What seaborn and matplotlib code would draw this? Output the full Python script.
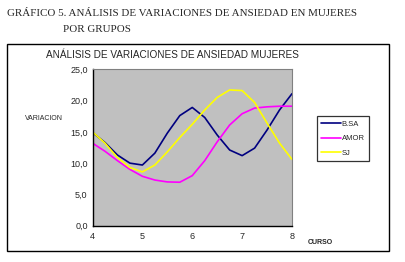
import pandas as pd
import matplotlib.pyplot as plt
import seaborn as sns
from matplotlib.patches import Rectangle
from matplotlib.ticker import FuncFormatter

# Datos (curso vs variación)
curso = [4.0, 4.25, 4.5, 4.75, 5.0, 5.25, 5.5, 5.75, 6.0,
         6.25, 6.5, 6.75, 7.0, 7.25, 7.5, 7.75, 8.0]
bsa = [14.9, 13.3, 11.3, 10.0, 9.7, 11.6, 14.8, 17.6, 18.9,
       17.3, 14.5, 12.1, 11.2, 12.4, 15.3, 18.5, 21.1]
amor = [13.2, 11.9, 10.4, 9.0, 7.9, 7.3, 7.0, 6.95, 8.0,
        10.4, 13.4, 16.1, 17.9, 18.8, 19.0, 19.1, 19.1]
sj = [15.0, 13.2, 10.9, 9.3, 8.6, 9.7, 11.8, 14.1, 16.2,
      18.5, 20.5, 21.7, 21.6, 19.7, 16.4, 13.2, 10.6]
grupos = ['B.SA', 'AMOR', 'SJ']
colores = ['#000080', '#FF00FF', '#FFFF00']

df = pd.DataFrame({
    'curso': curso * 3,
    'variacion': bsa + amor + sj,
    'grupo': ['B.SA'] * len(curso) + ['AMOR'] * len(curso) + ['SJ'] * len(curso),
})

sns.set_style('white')
plt.rcParams['font.family'] = ['Liberation Sans', 'DejaVu Sans']

fig = plt.figure(figsize=(4.05, 2.62), dpi=100)
ax = fig.add_axes([0.2284, 0.1385, 0.4926, 0.597])
ax.set_facecolor('#C0C0C0')

sns.lineplot(data=df, x='curso', y='variacion', hue='grupo', hue_order=grupos,
             palette=colores, linewidth=1.2, ax=ax, legend=False)

ax.set_xlim(4, 8)
ax.set_ylim(0, 25)
ax.set_xticks([4, 5, 6, 7, 8])
ax.set_yticks([0, 5, 10, 15, 20, 25])
ax.yaxis.set_major_formatter(FuncFormatter(lambda v, p: f'{v:.1f}'.replace('.', ',')))
ax.tick_params(axis='both', labelsize=6.5, length=3, width=0.8, direction='inout', pad=2)
ax.tick_params(axis='x', pad=3)
for s in ['top', 'right']:
    ax.spines[s].set_color('#808080')
    ax.spines[s].set_linewidth(0.8)
for s in ['left', 'bottom']:
    ax.spines[s].set_color('black')
    ax.spines[s].set_linewidth(1.0)
ax.set_xlabel('')
ax.set_ylabel('')

# Leyenda
handles = [plt.Line2D([0], [0], color=c, lw=1.2) for c in colores]
leg = fig.legend(handles, grupos, loc='upper left', bbox_to_anchor=(0.7827, 0.557),
                 bbox_transform=fig.transFigure, fontsize=5.5, frameon=True,
                 fancybox=False, edgecolor='black', handlelength=2.6,
                 handletextpad=0.1, borderpad=0.55, labelspacing=0.95, borderaxespad=0)
leg.get_frame().set_linewidth(0.9)

# Textos
fig.text(7 / 405, 1 - 13 / 262, 'GRÁFICO 5. ANÁLISIS DE VARIACIONES DE ANSIEDAD EN MUJERES',
         family=['Liberation Serif', 'DejaVu Serif'], fontsize=7.9, va='center', ha='left')
fig.text(63 / 405, 1 - 29 / 262, 'POR GRUPOS',
         family=['Liberation Serif', 'DejaVu Serif'], fontsize=7.9, va='center', ha='left')
fig.text(172 / 405, 1 - 55 / 262, 'ANÁLISIS DE VARIACIONES DE ANSIEDAD MUJERES',
         fontsize=7.2, va='center', ha='center')
fig.text(44 / 405, 1 - 119 / 262, 'VARIACION', fontsize=5, va='center', ha='center')
fig.text(320 / 405, 1 - 242 / 262, 'CURSO', fontsize=5, fontweight='bold',
         va='center', ha='center')

# Marco exterior
fig.patches.append(Rectangle((7 / 405, 1 - 251 / 262), 382 / 405, 207 / 262,
                             transform=fig.transFigure, fill=False,
                             edgecolor='black', linewidth=1.0))

fig.savefig('out.png', dpi=100)
